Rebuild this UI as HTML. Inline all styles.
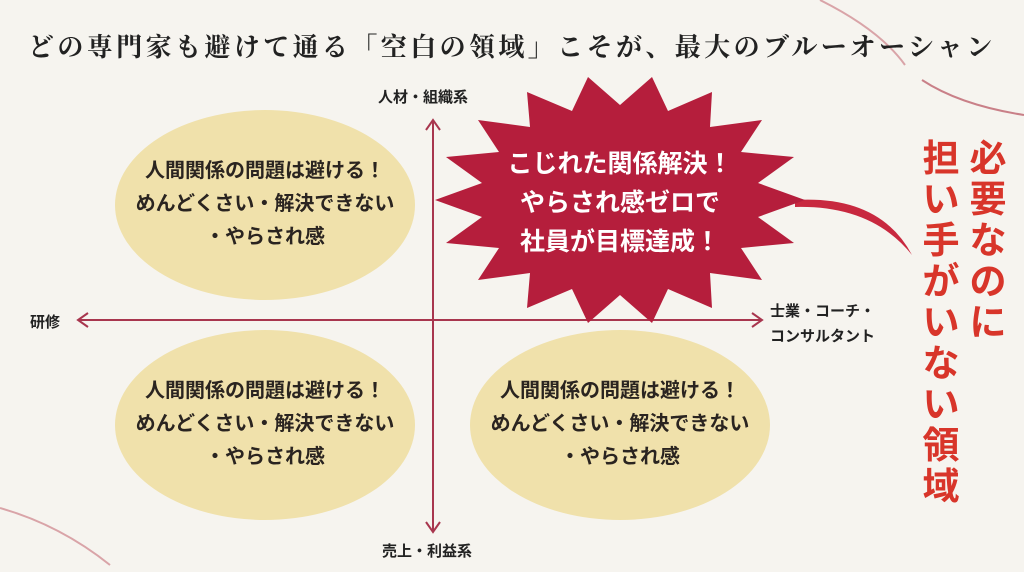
<!DOCTYPE html>
<html><head><meta charset="utf-8"><style>
body{margin:0;width:1024px;height:572px;background:#f6f4ef;overflow:hidden;position:relative;font-family:"Liberation Sans","Noto Sans CJK JP",sans-serif}
.t{position:absolute;white-space:nowrap}
.e{position:absolute;text-align:center;font-weight:bold;font-size:20px;line-height:33px;color:#2a2420}
.v{position:absolute;width:40px;font-size:37px;line-height:41px;font-weight:bold;color:#d8352a;text-align:center}
</style></head><body>
<svg width="1024" height="572" style="position:absolute;left:0;top:0">
<path d="M820 0 Q880 30 905 65" stroke="#d9a4a8" stroke-width="2" fill="none"/>
<path d="M922 80 Q960 105 1024 115" stroke="#c98088" stroke-width="2" fill="none"/>
<path d="M0 508 Q60 525 110 565" stroke="#d9a4a8" stroke-width="2" fill="none"/>
<ellipse cx="265" cy="205" rx="150" ry="95" fill="#f0e1ab"/>
<ellipse cx="265" cy="425" rx="150" ry="95" fill="#f0e1ab"/>
<ellipse cx="620" cy="425" rx="150" ry="95" fill="#f0e1ab"/>
<g stroke="#a8364e" stroke-width="2" fill="none">
<line x1="433" y1="120" x2="433" y2="532"/>
<polyline points="426,130 433,120 440,130"/>
<polyline points="426,522 433,532 440,522"/>
<line x1="78" y1="320" x2="762" y2="320"/>
<polyline points="88,313 78,320 88,327"/>
<polyline points="752,313 762,320 752,327"/>
</g>
<path d="M795 200 Q880 195 912 255 Q872 205 795 207 Z" fill="#c8283f"/>
<polygon fill="#b51e3c" points="805,200 758,217 794,243 741,248 762,280 710,273 712,308 668,289 652,323 620,295 588,323 572,289 527,308 530,273 478,280 499,248 446,243 482,217 435,200 482,183 446,157 499,152 478,120 530,127 527,92 572,111 588,77 620,105 652,77 668,111 712,92 710,127 762,120 741,152 794,157 758,183"/>
</svg>
<div class="t" style="left:28px;top:27px;font-size:26px;font-family:'Liberation Serif','Noto Serif CJK SC',serif;font-weight:bold;color:#222;letter-spacing:3.4px">どの専門家も避けて通る「空白の領域」こそが、最大のブルーオーシャン</div>
<div class="t" style="left:378px;top:86px;font-size:15px;font-weight:bold;color:#222">人材・組織系</div>
<div class="t" style="left:382px;top:540px;font-size:15px;font-weight:bold;color:#222">売上・利益系</div>
<div class="t" style="left:30px;top:311px;font-size:15px;font-weight:bold;color:#222">研修</div>
<div class="t" style="left:770px;top:299px;font-size:15px;font-weight:bold;color:#222;line-height:25px">士業・コーチ・<br>コンサルタント</div>
<div class="e" style="left:115px;top:155px;width:300px">人間関係の問題は避ける！<br>めんどくさい・解決できない<br>・やらされ感</div>
<div class="e" style="left:115px;top:375px;width:300px">人間関係の問題は避ける！<br>めんどくさい・解決できない<br>・やらされ感</div>
<div class="e" style="left:470px;top:375px;width:300px">人間関係の問題は避ける！<br>めんどくさい・解決できない<br>・やらされ感</div>
<div class="e" style="left:470px;top:145px;width:300px;color:#fff;font-size:25px;line-height:39px">こじれた関係解決！<br>やらされ感ゼロで<br>社員が目標達成！</div>
<div class="v" style="left:968px;top:138px">必<br>要<br>な<br>の<br>に</div>
<div class="v" style="left:921px;top:138px">担<br>い<br>手<br>が<br>い<br>な<br>い<br>領<br>域</div>
</body></html>
